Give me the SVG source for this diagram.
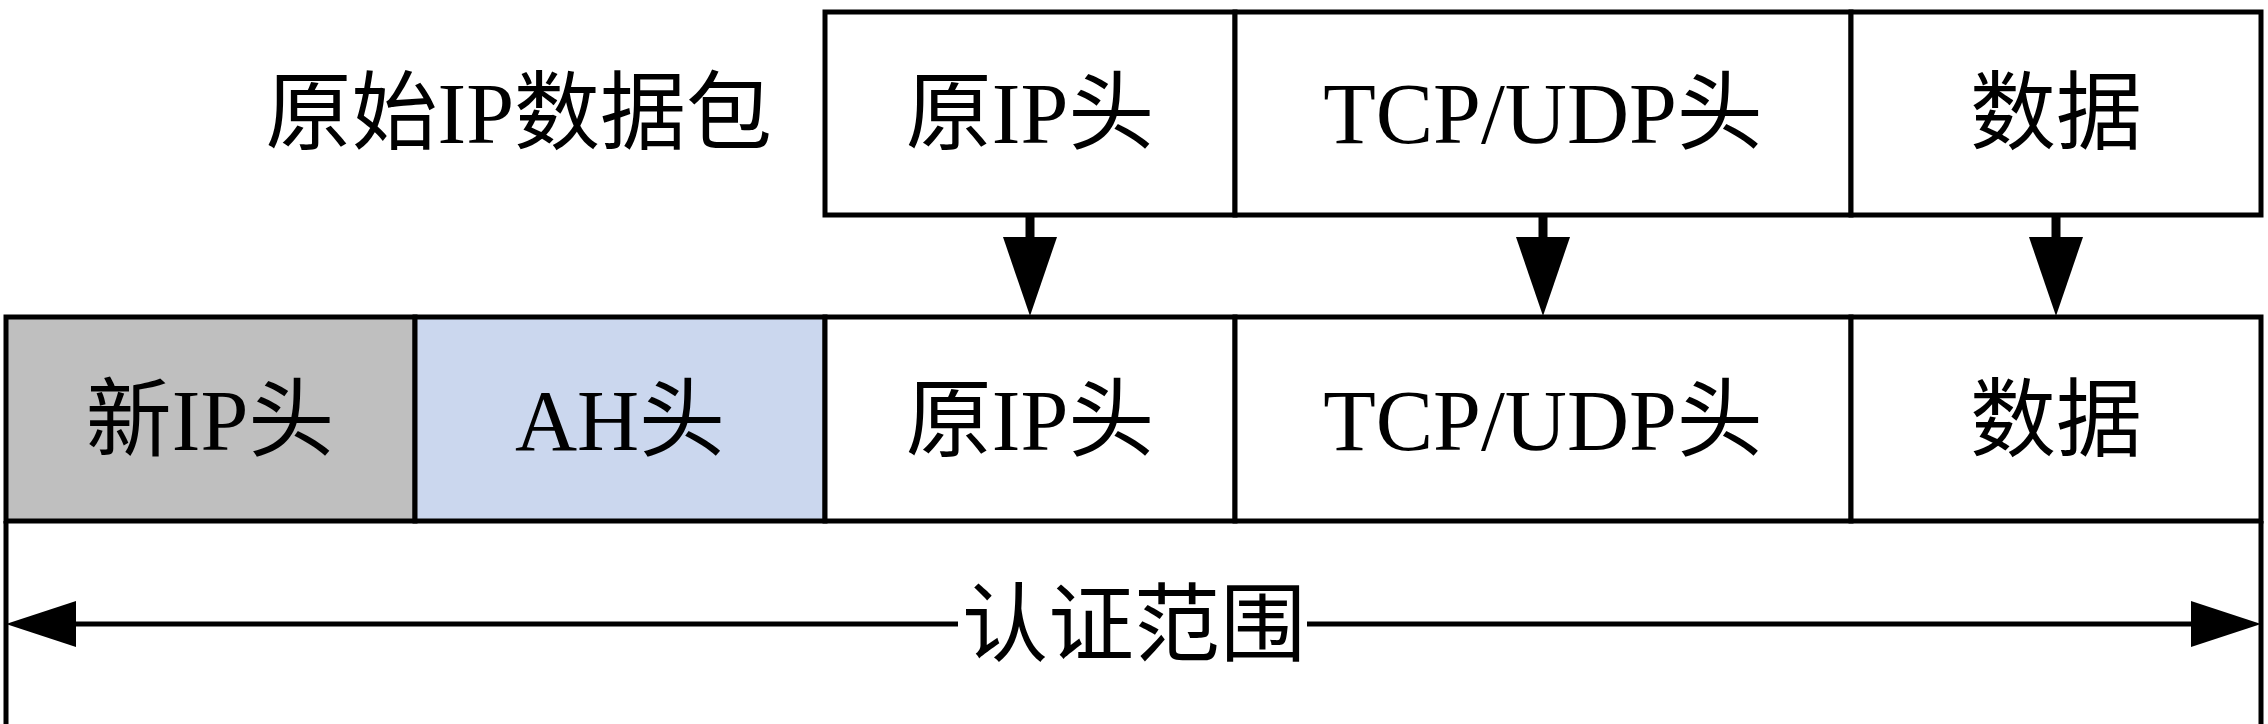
<svg xmlns="http://www.w3.org/2000/svg" width="2268" height="724" viewBox="0 0 2268 724">
  <style>
    .box { stroke: #000; stroke-width: 5; fill: #fff; }
    .gray { fill: #bfbfbf; }
    .blue { fill: #cbd7ee; }
    .lbl { font-family: "Liberation Serif", "Noto Sans CJK SC", serif; font-size: 86px; fill: #000; text-anchor: middle; }
    .conn { stroke: #000; fill: none; }
  </style>
  <defs>
    <marker id="down" markerUnits="userSpaceOnUse" viewBox="0 0 79 54" refX="13" refY="27" markerWidth="79" markerHeight="54" orient="auto">
      <polygon points="0,0 79,27 0,54" fill="#000"/>
    </marker>
    <marker id="side" markerUnits="userSpaceOnUse" viewBox="0 0 70 46" refX="50" refY="23" markerWidth="70" markerHeight="46" orient="auto">
      <polygon points="0,0 70,23 0,46" fill="#000"/>
    </marker>
  </defs>
  <rect width="2268" height="724" fill="#fff"/>

  <text class="lbl" x="772" y="143" style="text-anchor:end">原始IP数据包</text>

  <g id="top-orig-ip">
    <rect class="box" x="825" y="12" width="410" height="203"/>
    <text class="lbl" x="1030" y="143">原IP头</text>
  </g>
  <g id="top-tcp">
    <rect class="box" x="1235" y="12" width="616" height="203"/>
    <text class="lbl" x="1543" y="143">TCP/UDP头</text>
  </g>
  <g id="top-data">
    <rect class="box" x="1851" y="12" width="410" height="203"/>
    <text class="lbl" x="2056" y="143">数据</text>
  </g>

  <g id="new-ip">
    <rect class="box gray" x="6" y="317" width="409" height="204"/>
    <text class="lbl" x="210" y="450">新IP头</text>
  </g>
  <g id="ah">
    <rect class="box blue" x="415" y="317" width="410" height="204"/>
    <text class="lbl" x="620" y="450">AH头</text>
  </g>
  <g id="bot-orig-ip">
    <rect class="box" x="825" y="317" width="410" height="204"/>
    <text class="lbl" x="1030" y="450">原IP头</text>
  </g>
  <g id="bot-tcp">
    <rect class="box" x="1235" y="317" width="616" height="204"/>
    <text class="lbl" x="1543" y="450">TCP/UDP头</text>
  </g>
  <g id="bot-data">
    <rect class="box" x="1851" y="317" width="410" height="204"/>
    <text class="lbl" x="2056" y="450">数据</text>
  </g>

  <g id="connectors">
    <path class="conn" d="M1030 215 V250" stroke-width="9" marker-end="url(#down)"/>
    <path class="conn" d="M1543 215 V250" stroke-width="9" marker-end="url(#down)"/>
    <path class="conn" d="M2056 215 V250" stroke-width="9" marker-end="url(#down)"/>
    <path class="conn" d="M6 521 V724" stroke-width="5"/>
    <path class="conn" d="M2261 521 V724" stroke-width="5"/>
    <path class="conn" d="M958 624 H26" stroke-width="5" marker-end="url(#side)"/>
    <path class="conn" d="M1307 624 H2241" stroke-width="5" marker-end="url(#side)"/>
  </g>
  <g id="scope-label">
    <text class="lbl" x="1134" y="655">认证范围</text>
  </g>
</svg>
